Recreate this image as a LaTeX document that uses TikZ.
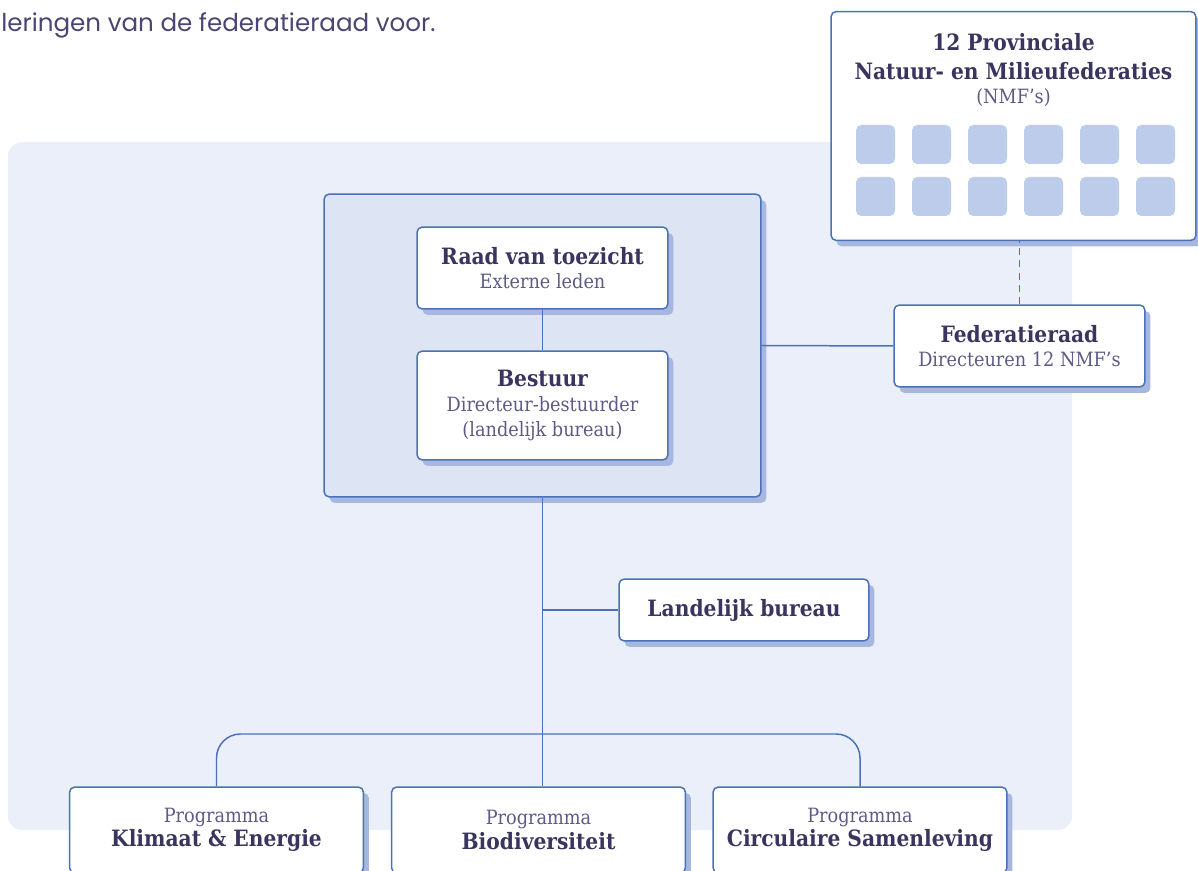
\documentclass[tikz,border=0pt]{standalone}
\usepackage{fontspec}
\setmainfont{DejaVu Serif Condensed}
\newfontfamily\topfont{Poppins}
\usetikzlibrary{shadows}

\definecolor{ink}{HTML}{3A355F}
\definecolor{inklight}{HTML}{5D5A85}
\definecolor{topink}{HTML}{4A4572}
\definecolor{edgeblue}{HTML}{4A72B8}
\definecolor{panelblue}{HTML}{EBEFF9}
\definecolor{groupblue}{HTML}{DDE4F4}
\definecolor{shadeblue}{HTML}{A7B7DF}
\definecolor{tileblue}{HTML}{BCCCEA}

\newcommand\boxtitle[1]{{\fontsize{12.8pt}{14pt}\selectfont\bfseries\color{ink}#1}}
\newcommand\boxsub[1]{{\fontsize{11.2pt}{14pt}\selectfont\color{inklight}#1}}

\tikzset{
	orgbox/.style={draw=edgeblue, line width=0.85pt, fill=white, rounded corners=3pt,
		align=center, inner sep=0pt, font=\fontsize{11pt}{14pt}\selectfont,
		drop shadow={shadow xshift=0.11cm, shadow yshift=-0.12cm, fill=shadeblue, opacity=1}},
	groupbox/.style={orgbox, fill=groupblue},
	tile/.style={fill=tileblue, rounded corners=3pt, minimum size=0.78cm, inner sep=0pt},
	link/.style={draw=edgeblue, line width=0.85pt},
}

\begin{document}
\begin{tikzpicture}[x=0.02cm, y=-0.02cm]
		\useasboundingbox (0,0) rectangle (1198,871);
		
		% INTRO TEXT
		\node[anchor=base west, inner sep=0pt, text=topink, font=\topfont\fontsize{14pt}{16pt}\selectfont] (intro) at (1,32) {leringen van de federatieraad voor.};
		
		% BACKGROUND PANEL
		\fill[panelblue, rounded corners=0.28cm] (8,142) rectangle (1072,830);
		
		% GOVERNANCE GROUP
		\node[groupbox, minimum width=8.74cm, minimum height=6.06cm] (grp) at (542.5,345.5) {};
		\node[orgbox, minimum width=5.02cm, minimum height=1.64cm] (raad) at (542.5,268) {\boxtitle{Raad van toezicht}\\\boxsub{Externe leden}};
		\node[orgbox, minimum width=5.02cm, minimum height=2.18cm] (bestuur) at (542.5,405.5) {\boxtitle{Bestuur}\\\boxsub{Directeur-bestuurder}\\\boxsub{(landelijk bureau)}};
		
		% PROVINCIAL FEDERATIONS
		\node[orgbox, minimum width=7.3cm, minimum height=4.58cm] (nmf) at (1013.5,126) {};
		\node[align=center, inner sep=0pt, font=\fontsize{11pt}{14pt}\selectfont] (nmftitle) at (1013.5,70) {\boxtitle{12 Provinciale}\\[2.5pt]\boxtitle{Natuur- en Milieufederaties}\\\boxsub{(NMF's)}};
		\foreach \i in {0,...,5}
			\foreach \j in {0,1}
				\node[tile] (t-\i-\j) at (875.5+56*\i,144.5+52*\j) {};
		
		\node[orgbox, minimum width=5.02cm, minimum height=1.64cm] (fed) at (1019.5,346) {\boxtitle{Federatieraad}\\\boxsub{Directeuren 12 NMF's}};
		
		% OFFICE AND PROGRAMMES
		\node[orgbox, minimum width=5cm, minimum height=1.24cm] (lb) at (744,610) {\boxtitle{Landelijk bureau}};
		\node[orgbox, minimum width=5.88cm, minimum height=1.72cm] (klim) at (216.5,830) {\boxsub{Programma}\\\boxtitle{Klimaat \& Energie}};
		\node[orgbox, minimum width=5.88cm, minimum height=1.72cm] (bio) at (538.5,830) {\boxsub{Programma}\\\boxtitle{Biodiversiteit}};
		\node[orgbox, minimum width=5.88cm, minimum height=1.72cm] (circ) at (860,830) {\boxsub{Programma}\\\boxtitle{Circulaire Samenleving}};
		
		% DRAW CONNECTORS
		\coordinate (fork) at (542.5,734);
		\coordinate (lbjoin) at (542.5,610);
		\draw[link] (raad) -- (bestuur);
		\draw[link] (grp.east) -- (fed.west);
		\draw[link, dash pattern=on 4pt off 3pt] (fed.north) -- (fed.north |- nmf.south);
		\draw[link] (grp.south) -- (grp.south |- bio.north);
		\draw[link] (lbjoin) -- (lb.west);
		\draw[link, rounded corners=0.48cm] (klim.north) |- (fork) -| (circ.north);
	\end{tikzpicture}
\end{document}
